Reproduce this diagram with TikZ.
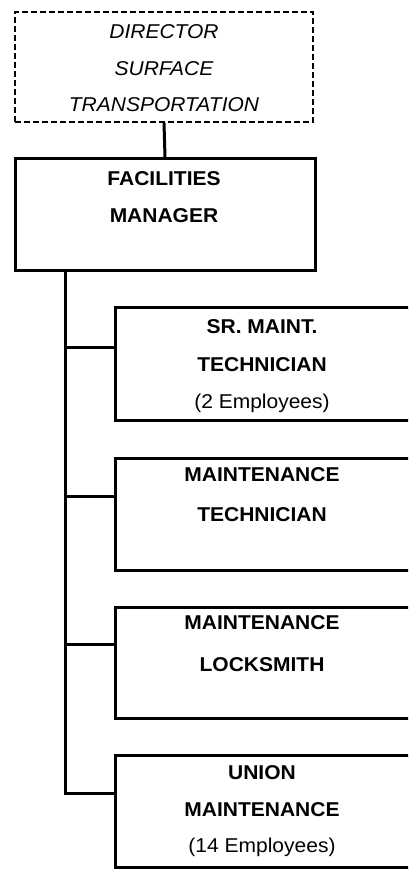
\documentclass[tikz,border=0pt]{standalone}
\usepackage{fontspec}
\setmainfont{Liberation Sans}[FakeStretch=1.05]
\begin{document}
\begin{tikzpicture}[x=1pt,y=-1pt,
  solidbox/.style={draw=black, line width=3pt, rectangle, inner sep=0pt, fill=white},
  dashbox/.style={draw=black, line width=1.4pt, dash pattern=on 6pt off 3pt, rectangle, inner sep=0pt},
  conn/.style={draw=black, line width=3pt},
  lbl/.style={anchor=north, align=center, inner sep=0pt, font=\fontsize{20}{38}\selectfont},
]
\clip (0,0) rectangle (408,869);
\fill[white] (0,0) rectangle (408,869);

% boxes
\node[dashbox, minimum width=298pt, minimum height=110pt] (dir) at (164,67) {};
\node[solidbox, minimum width=300pt, minimum height=111pt] (fac) at (165,214.5) {};
\node[solidbox, minimum width=295pt, minimum height=113pt] (sr) at (262.5,363.5) {};
\node[solidbox, minimum width=295pt, minimum height=112pt] (mt) at (262.5,514) {};
\node[solidbox, minimum width=295pt, minimum height=111pt] (ls) at (262.5,662.5) {};
\node[solidbox, minimum width=295pt, minimum height=112pt] (un) at (262.5,811) {};

% texts
\node[lbl, font=\fontsize{20}{36.5}\selectfont\itshape] (tdir) at (164,24.8) {DIRECTOR\\SURFACE\\TRANSPORTATION};
\node[lbl, font=\fontsize{20}{37}\selectfont\bfseries] (tfac) at (164,171.8) {FACILITIES\\MANAGER};
\node[lbl, font=\fontsize{20}{37.5}\selectfont] (tsr) at (262,319.8) {\textbf{SR. MAINT.}\\\textbf{TECHNICIAN}\\(2 Employees)};
\node[lbl, font=\fontsize{20}{40}\selectfont\bfseries] (tmt) at (262,467.8) {MAINTENANCE\\TECHNICIAN};
\node[lbl, font=\fontsize{20}{42}\selectfont\bfseries] (tls) at (262,615.8) {MAINTENANCE\\LOCKSMITH};
\node[lbl, font=\fontsize{20}{36.5}\selectfont] (tun) at (262,765.8) {\textbf{UNION}\\\textbf{MAINTENANCE}\\(14 Employees)};

% connector points
\coordinate (t0) at (65,270);
\coordinate (b1) at (115,347);
\coordinate (b2) at (115,496);
\coordinate (b3) at (115,644);
\coordinate (b4) at (115,793);

% connectors
\draw[conn] (dir.south) -- (fac.north);
\draw[conn] (t0) |- (b4);
\draw[conn] (b1 -| t0) -- (b1);
\draw[conn] (b2 -| t0) -- (b2);
\draw[conn] (b3 -| t0) -- (b3);
\end{tikzpicture}
\end{document}
